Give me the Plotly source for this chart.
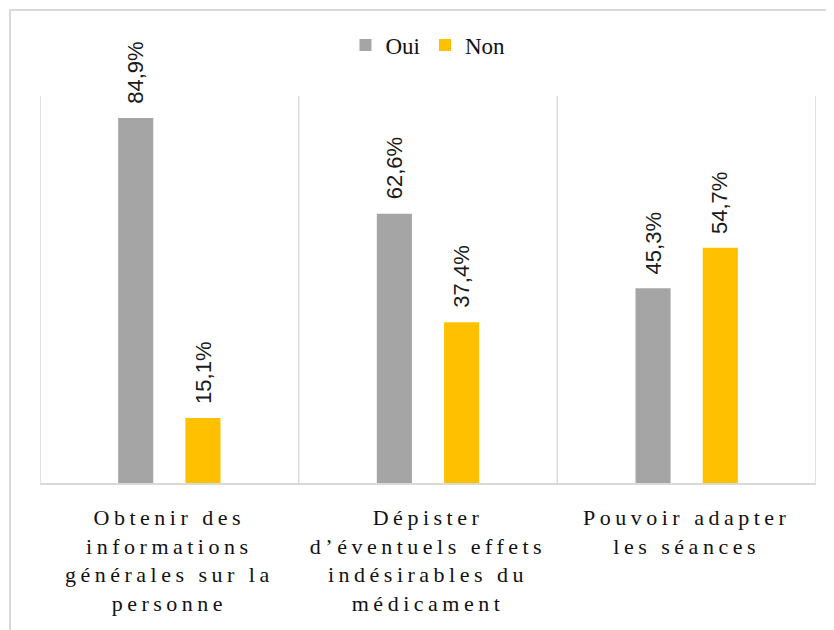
import plotly.graph_objects as go

# ---- data ----
category_keys = [
    "Obtenir des informations générales sur la personne",
    "Dépister d’éventuels effets indésirables du médicament",
    "Pouvoir adapter les séances",
]
tick_labels = [
    "Obtenir des<br>informations<br>générales sur la<br>personne",
    "Dépister<br>d’éventuels effets<br>indésirables du<br>médicament",
    "Pouvoir adapter<br>les séances",
]
series_names = ["Oui", "Non"]
oui_values = [84.9, 62.6, 45.3]
non_values = [15.1, 37.4, 54.7]

# ---- styles ----
colors = ["#A5A5A5", "#FFC000"]
grid_color = "#D9D9D9"
PAGE = 8  # default body margin of the page
W, H = 834 - PAGE, 630 - PAGE
ml, mr, mt, mb = 32, 18, 88, 147
pw, ph = W - ml - mr, H - mt - mb


def fmt(v):
    return f"{v:.1f}%".replace(".", ",")


fig = go.Figure()
series_values = [oui_values, non_values]
for name, vals, col in zip(series_names, series_values, colors):
    fig.add_trace(go.Bar(
        x=category_keys, y=vals, name=name,
        marker=dict(color=col, line=dict(width=0)),
        hoverinfo="skip",
    ))

# value labels above bars (rotated)
offsets = [-33.5, 33.5]
annotations = []
for vals, dx in zip(series_values, offsets):
    for cat, v in zip(category_keys, vals):
        annotations.append(dict(
            x=cat, y=v, xref="x", yref="y", text=fmt(v), showarrow=False,
            textangle=-90, xanchor="center", yanchor="bottom",
            xshift=dx, yshift=12,
            font=dict(family="Liberation Sans", size=22, color="#1a1a1a"),
        ))

shapes = []
# vertical separators between categories
for i in range(len(category_keys) + 1):
    shapes.append(dict(type="line", xref="x", yref="paper",
                       x0=i - 0.5, x1=i - 0.5, y0=0, y1=1,
                       line=dict(color=grid_color, width=1.5), layer="below"))
# outer chart border
shapes.append(dict(type="rect", xref="paper", yref="paper",
                   x0=(2 - ml) / pw, x1=(W + 20 - ml) / pw,
                   y0=-(H + 20 - mt - ph) / ph, y1=(mt + ph - 2) / ph,
                   line=dict(color=grid_color, width=2), fillcolor="rgba(0,0,0,0)"))

fig.update_layout(
    width=W, height=H,
    margin=dict(l=ml, r=mr, t=mt, b=mb),
    paper_bgcolor="white", plot_bgcolor="white",
    barmode="group", bargap=0.48, bargroupgap=0.478,
    showlegend=True,
    legend=dict(orientation="h", x=0.5, xanchor="center",
                y=(ph + mt - 37) / ph, yanchor="middle",
                font=dict(family="Liberation Serif", size=23, color="#111111"),
                itemwidth=30, tracegroupgap=0, bgcolor="rgba(0,0,0,0)"),
    xaxis=dict(type="category", range=[-0.5, len(category_keys) - 0.5],
               tickvals=category_keys, ticktext=tick_labels,
               showgrid=False, zeroline=False, showline=True,
               linecolor=grid_color, linewidth=1.5, ticks="",
               ticklabelstandoff=14,
               tickfont=dict(family="Liberation Serif", size=22, color="#111111")),
    yaxis=dict(range=[0, 90], visible=False, showgrid=False, zeroline=False),
    annotations=annotations,
    shapes=shapes,
)

post = """
var gd = document.getElementById('{plot_id}');
function ls(){ gd.querySelectorAll('.xtick text').forEach(function(t){ t.style.letterSpacing='4.5px'; }); }
ls();
if (gd.on) { gd.on('plotly_afterplot', ls); }
"""

fig.write_html("out.html", post_script=post)
